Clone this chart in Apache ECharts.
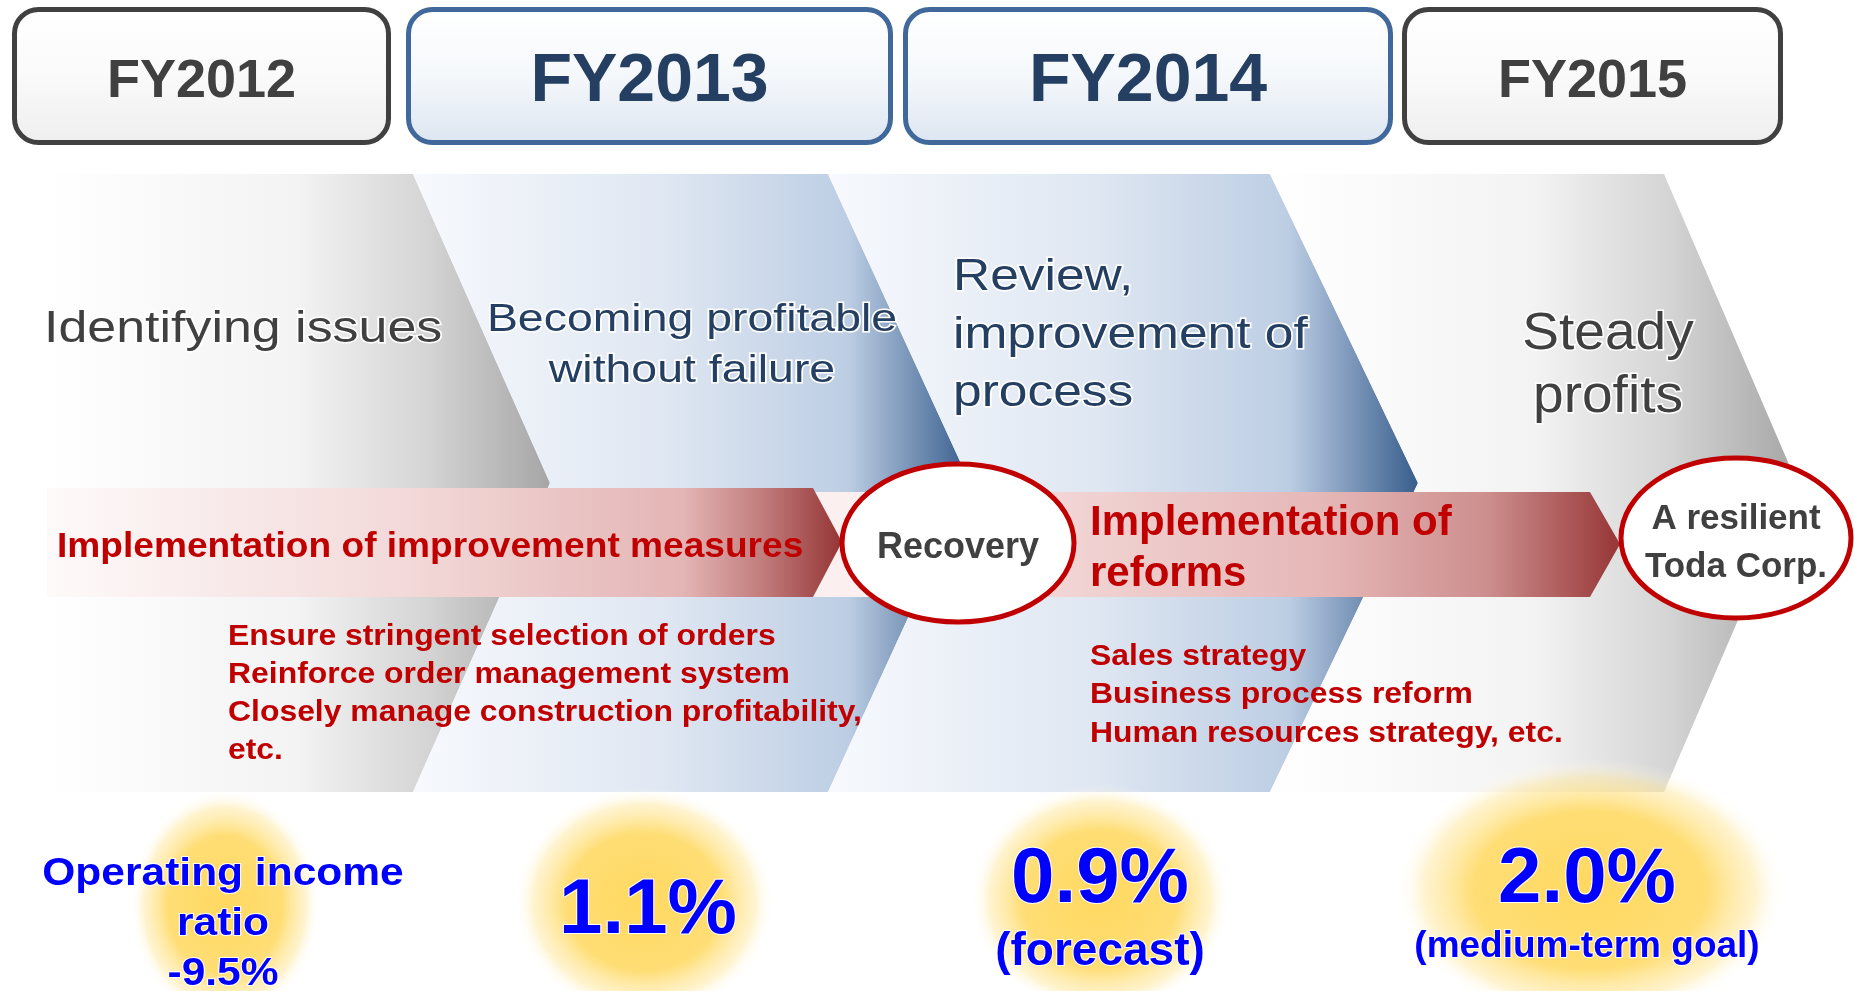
<!DOCTYPE html>
<html>
<head>
<meta charset="utf-8">
<title>Roadmap</title>
<script src="https://cdn.jsdelivr.net/npm/echarts@6/dist/echarts.min.js"></script>
<style>
  html, body { margin: 0; padding: 0; background: #fff; }
  #main { width: 1854px; height: 991px; }
</style>
</head>
<body>
<div id="main"></div>
<script>
// 文字数据
var years = ['FY2012', 'FY2013', 'FY2014', 'FY2015']
var stageTitles = ['Identifying issues', 'Becoming profitable\nwithout failure', 'Review,\nimprovement of\nprocess', 'Steady\nprofits']
var bandTitles = ['Implementation of improvement measures', 'Implementation of\nreforms']
var milestones = ['Recovery', 'A resilient\nToda Corp.']
var measuresA = ['Ensure stringent selection of orders', 'Reinforce order management system', 'Closely manage construction profitability,', 'etc.']
var measuresB = ['Sales strategy', 'Business process reform', 'Human resources strategy, etc.']
var ratios = ['-9.5%', '1.1%', '0.9%', '2.0%']
var ratioNotes = ['Operating income\nratio', '', '(forecast)', '(medium-term goal)']

var FONT = '"Liberation Sans", Arial, sans-serif'
var LG = echarts.graphic.LinearGradient
var RG = echarts.graphic.RadialGradient

// 版面
var headerX = [[12, 391], [406, 893], [903, 1393], [1402, 1783]]
var headerBlue = [false, true, true, false]
var chevTop = 174
var chevBottom = 792
var chevMid = 483
var chevEdge = [45, 413, 828, 1270, 1664]
var chevTip = [550, 970, 1418, 1797]
var dy = 3 // 文字下移

var grayStops = [
  { offset: 0, color: '#ffffff' },
  { offset: 0.5, color: '#f3f3f3' },
  { offset: 0.76, color: '#d4d4d4' },
  { offset: 1, color: '#a6a6a6' }
]
var blueStops = [
  { offset: 0, color: '#f7f9fd' },
  { offset: 0.45, color: '#dfe7f2' },
  { offset: 0.78, color: '#bdcee4' },
  { offset: 1, color: '#385e8d' }
]

var els = []

// 年度标题
years.forEach(function (y, i) {
  var x0 = headerX[i][0], x1 = headerX[i][1]
  els.push({
    type: 'rect',
    shape: { x: x0 + 2.5, y: 9.5, width: x1 - x0 - 5, height: 133, r: 24 },
    style: {
      fill: new LG(0, 0, 0, 1, headerBlue[i]
        ? [{ offset: 0, color: '#ffffff' }, { offset: 0.5, color: '#f5f8fb' }, { offset: 1, color: '#dce5f1' }]
        : [{ offset: 0, color: '#ffffff' }, { offset: 0.5, color: '#fafafa' }, { offset: 1, color: '#eeeeee' }]),
      stroke: headerBlue[i] ? '#41689a' : '#404040',
      lineWidth: 5
    }
  })
  els.push({
    type: 'text',
    x: (x0 + x1) / 2,
    y: 82,
    style: {
      text: y,
      font: 'bold ' + (headerBlue[i] ? 68 : 54) + 'px ' + FONT,
      fill: headerBlue[i] ? '#243f61' : '#404040',
      textAlign: 'center',
      textVerticalAlign: 'middle'
    }
  })
})

// 箭头形色块
for (var i = 0; i < 4; i++) {
  var pts
  if (i === 0) {
    pts = [[chevEdge[0], chevTop], [chevEdge[1], chevTop], [chevTip[0], chevMid], [chevEdge[1], chevBottom], [chevEdge[0], chevBottom]]
  } else {
    pts = [[chevEdge[i], chevTop], [chevEdge[i + 1], chevTop], [chevTip[i], chevMid], [chevEdge[i + 1], chevBottom], [chevEdge[i], chevBottom], [chevTip[i - 1], chevMid]]
  }
  els.push({
    type: 'polygon',
    shape: { points: pts },
    style: { fill: new LG(0, 0, 1, 0, (i === 1 || i === 2) ? blueStops : grayStops) }
  })
}

// 阶段标题
var titleCfg = [
  { x: 44, y: 326, size: 44, sx: 1.18, align: 'left', lh: 50, color: '#404040' },
  { x: 692, y: 342, size: 39, sx: 1.19, align: 'center', lh: 51, color: '#243f61' },
  { x: 953, y: 332, size: 44, sx: 1.17, align: 'left', lh: 58, color: '#243f61' },
  { x: 1608, y: 362, size: 51, sx: 1.08, align: 'center', lh: 63, color: '#404040' }
]
stageTitles.forEach(function (t, i) {
  var c = titleCfg[i]
  els.push({
    type: 'text',
    x: c.x,
    y: c.y + dy + 1,
    scaleX: c.sx,
    style: {
      text: t,
      font: c.size + 'px ' + FONT,
      lineHeight: c.lh,
      fill: c.color,
      stroke: '#ffffff',
      lineWidth: 3,
      textAlign: c.align,
      textVerticalAlign: 'middle'
    }
  })
})

// 红色横带
els.push({
  type: 'rect',
  shape: { x: 813, y: 492, width: 150, height: 105 },
  style: { fill: '#fbefef' }
})
els.push({
  type: 'polygon',
  shape: { points: [[47, 488], [813, 488], [842, 542], [813, 597], [47, 597]] },
  style: {
    fill: new LG(0, 0, 1, 0, [
      { offset: 0, color: '#fefafa' },
      { offset: 0.45, color: '#f3d9d9' },
      { offset: 0.8, color: '#e4b5b5' },
      { offset: 0.9, color: '#c27c7c' },
      { offset: 1, color: '#953535' }
    ])
  }
})
els.push({
  type: 'polygon',
  shape: { points: [[960, 492], [1590, 492], [1620, 544], [1590, 597], [960, 597]] },
  style: {
    fill: new LG(0, 0, 1, 0, [
      { offset: 0, color: '#f6e0e0' },
      { offset: 0.55, color: '#e6b7b7' },
      { offset: 0.8, color: '#cd8e8e' },
      { offset: 1, color: '#973636' }
    ])
  }
})

// 圆圈
var ringCfg = [
  { cx: 958, cy: 543, rx: 116, ry: 79, size: 36, lh: 44 },
  { cx: 1736, cy: 538, rx: 115, ry: 80, size: 35, lh: 48 }
]
milestones.forEach(function (m, i) {
  var c = ringCfg[i]
  els.push({
    type: 'ellipse',
    shape: { cx: c.cx, cy: c.cy, rx: c.rx, ry: c.ry },
    style: { fill: '#ffffff', stroke: '#c00000', lineWidth: 5 }
  })
  els.push({
    type: 'text',
    x: c.cx,
    y: c.cy + 2 + dy,
    style: {
      text: m,
      font: 'bold ' + c.size + 'px ' + FONT,
      lineHeight: c.lh,
      fill: '#404040',
      textAlign: 'center',
      textVerticalAlign: 'middle'
    }
  })
})

// 横带文字
els.push({
  type: 'text',
  x: 57,
  y: 544 + dy,
  scaleX: 1.06,
  style: {
    text: bandTitles[0],
    font: 'bold 35px ' + FONT,
    fill: '#c00000',
    textAlign: 'left',
    textVerticalAlign: 'middle'
  }
})
els.push({
  type: 'text',
  x: 1090,
  y: 546 + dy,
  style: {
    text: bandTitles[1],
    font: 'bold 42px ' + FONT,
    lineHeight: 51,
    fill: '#c00000',
    textAlign: 'left',
    textVerticalAlign: 'middle'
  }
})

// 措施列表
els.push({
  type: 'text',
  x: 228,
  y: 691 + dy,
  scaleX: 1.1,
  style: {
    text: measuresA.join('\n'),
    font: 'bold 29px ' + FONT,
    lineHeight: 38.3,
    fill: '#c00000',
    textAlign: 'left',
    textVerticalAlign: 'middle'
  }
})
els.push({
  type: 'text',
  x: 1090,
  y: 692 + dy,
  scaleX: 1.1,
  style: {
    text: measuresB.join('\n'),
    font: 'bold 29px ' + FONT,
    lineHeight: 38.5,
    fill: '#c00000',
    textAlign: 'left',
    textVerticalAlign: 'middle'
  }
})

// 底部光晕
var glowCfg = [
  { cx: 225, cy: 905, rx: 95, ry: 115 },
  { cx: 644, cy: 902, rx: 130, ry: 115 },
  { cx: 1100, cy: 899, rx: 130, ry: 115 },
  { cx: 1590, cy: 890, rx: 195, ry: 132 }
]
glowCfg.forEach(function (g) {
  els.push({
    type: 'circle',
    x: g.cx,
    y: g.cy,
    scaleX: g.rx / g.ry,
    shape: { cx: 0, cy: 0, r: g.ry },
    style: {
      fill: new RG(0.5, 0.5, 0.5, [
        { offset: 0, color: 'rgba(255,216,95,1)' },
        { offset: 0.6, color: 'rgba(255,220,110,0.95)' },
        { offset: 0.85, color: 'rgba(255,232,160,0.5)' },
        { offset: 1, color: 'rgba(255,255,255,0)' }
      ])
    }
  })
})

// 营业利润率
var blueText = function (x, y, text, size, lh, sx) {
  els.push({
    type: 'text',
    x: x,
    y: y + dy,
    scaleX: sx || 1,
    style: {
      text: text,
      font: 'bold ' + size + 'px ' + FONT,
      lineHeight: lh,
      fill: '#0000ff',
      stroke: '#ffffff',
      lineWidth: 2,
      textAlign: 'center',
      textVerticalAlign: 'middle'
    }
  })
}
blueText(223, 921, ratioNotes[0] + '\n' + ratios[0], 39, 50, 1.09)
blueText(648, 908, ratios[1], 78, 80)
blueText(1100, 877, ratios[2], 78, 80)
blueText(1100, 949, ratioNotes[2], 46, 50)
blueText(1587, 877, ratios[3], 78, 80)
blueText(1587, 944, ratioNotes[3], 37, 40)

var myChart = echarts.init(document.getElementById('main'))
myChart.setOption({
  backgroundColor: '#ffffff',
  graphic: { elements: els }
})
</script>
</body>
</html>
